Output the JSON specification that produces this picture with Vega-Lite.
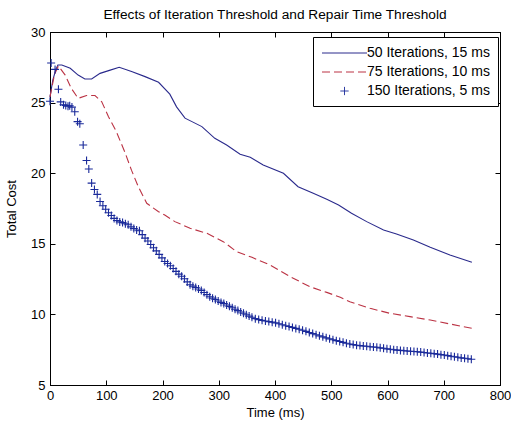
{
"$schema": "https://vega.github.io/schema/vega-lite/v6.json",
"width": 450, "height": 353,
"autosize": "none",
"padding": {"left": 50, "top": 32, "right": 11, "bottom": 36},
"background": "white",
"title": {"text": "Effects of Iteration Threshold and Repair Time Threshold", "fontSize": 13.7, "fontWeight": "normal", "font": "Liberation Sans", "anchor": "middle", "offset": -7, "baseline": "alphabetic", "color": "black"},
"config": {
  "view": {"stroke": "black", "strokeWidth": 1},
  "axis": {"domainColor": "black", "tickColor": "black", "labelColor": "black", "titleColor": "black", "grid": false, "labelFont": "Liberation Sans", "titleFont": "Liberation Sans", "labelFontSize": 13, "titleFontSize": 13, "titleFontWeight": "normal", "labelFlush": false, "labelOverlap": false, "tickSize": -5}
},
"datasets": {
"a": [{"t":0,"c":25.4},{"t":5,"c":26.6},{"t":10,"c":27.3},{"t":14,"c":27.66},{"t":21,"c":27.66},{"t":28,"c":27.55},{"t":36,"c":27.43},{"t":50,"c":26.95},{"t":62,"c":26.67},{"t":74,"c":26.67},{"t":89,"c":27.07},{"t":107,"c":27.3},{"t":123,"c":27.5},{"t":145,"c":27.2},{"t":169,"c":26.84},{"t":193,"c":26.44},{"t":213,"c":25.6},{"t":225,"c":24.7},{"t":240,"c":23.9},{"t":255,"c":23.6},{"t":270,"c":23.3},{"t":293,"c":22.47},{"t":314,"c":22.0},{"t":338,"c":21.34},{"t":356,"c":21.13},{"t":379,"c":20.58},{"t":415,"c":19.99},{"t":441,"c":19.04},{"t":468,"c":18.58},{"t":492,"c":18.15},{"t":513,"c":17.75},{"t":536,"c":17.16},{"t":563,"c":16.57},{"t":593,"c":15.98},{"t":616,"c":15.7},{"t":646,"c":15.27},{"t":676,"c":14.75},{"t":711,"c":14.2},{"t":750,"c":13.7}],
"b": [{"t":0,"c":25.4},{"t":8,"c":27.0},{"t":15,"c":27.6},{"t":27,"c":26.95},{"t":38,"c":26.0},{"t":50,"c":25.3},{"t":65,"c":25.5},{"t":80,"c":25.5},{"t":92,"c":25.06},{"t":104,"c":24.0},{"t":118,"c":22.94},{"t":133,"c":21.5},{"t":145,"c":20.2},{"t":157,"c":19.04},{"t":172,"c":17.87},{"t":193,"c":17.27},{"t":204,"c":17.04},{"t":222,"c":16.57},{"t":249,"c":16.1},{"t":279,"c":15.74},{"t":308,"c":15.15},{"t":332,"c":14.44},{"t":359,"c":14.04},{"t":391,"c":13.5},{"t":427,"c":12.67},{"t":462,"c":11.96},{"t":492,"c":11.56},{"t":516,"c":11.21},{"t":533,"c":10.9},{"t":569,"c":10.43},{"t":604,"c":10.08},{"t":640,"c":9.84},{"t":676,"c":9.6},{"t":711,"c":9.32},{"t":750,"c":9.02}],
"c": [{"t":0,"c":25.1},{"t":2,"c":27.8},{"t":9,"c":27.35},{"t":15,"c":25.95},{"t":19,"c":25.05},{"t":24,"c":24.85},{"t":28,"c":24.8},{"t":32,"c":24.75},{"t":35,"c":24.78},{"t":39,"c":24.68},{"t":44,"c":24.35},{"t":49,"c":23.65},{"t":53,"c":23.5},{"t":59,"c":22.0},{"t":65,"c":20.9},{"t":69,"c":20.3},{"t":74,"c":19.3},{"t":79,"c":18.85},{"t":84,"c":18.5},{"t":89,"c":18.0},{"t":94,"c":17.7},{"t":99,"c":17.45},{"t":104,"c":17.2},{"t":109,"c":17.0},{"t":114,"c":16.8},{"t":119,"c":16.65},{"t":124,"c":16.55},{"t":129,"c":16.5},{"t":134,"c":16.42},{"t":139,"c":16.35},{"t":144,"c":16.2},{"t":149,"c":16.08},{"t":154,"c":15.98},{"t":159,"c":15.92},{"t":164,"c":15.65},{"t":169,"c":15.4},{"t":174,"c":15.2},{"t":179,"c":14.95},{"t":184,"c":14.72},{"t":189,"c":14.5},{"t":194,"c":14.25},{"t":199,"c":14.0},{"t":204,"c":13.75},{"t":209,"c":13.6},{"t":214,"c":13.45},{"t":219,"c":13.25},{"t":224,"c":13.05},{"t":229,"c":12.85},{"t":234,"c":12.7},{"t":239,"c":12.52},{"t":244,"c":12.3},{"t":249,"c":12.1},{"t":254,"c":12.0},{"t":259,"c":11.9},{"t":264,"c":11.8},{"t":269,"c":11.7},{"t":274,"c":11.55},{"t":279,"c":11.4},{"t":284,"c":11.25},{"t":289,"c":11.15},{"t":294,"c":11.05},{"t":299,"c":10.95},{"t":304,"c":10.85},{"t":309,"c":10.77},{"t":314,"c":10.67},{"t":319,"c":10.57},{"t":324,"c":10.47},{"t":329,"c":10.36},{"t":334,"c":10.27},{"t":339,"c":10.17},{"t":344,"c":10.08},{"t":349,"c":9.97},{"t":354,"c":9.88},{"t":359,"c":9.8},{"t":365,"c":9.7},{"t":371,"c":9.63},{"t":377,"c":9.58},{"t":383,"c":9.53},{"t":389,"c":9.49},{"t":395,"c":9.45},{"t":401,"c":9.4},{"t":407,"c":9.34},{"t":413,"c":9.27},{"t":419,"c":9.2},{"t":425,"c":9.14},{"t":431,"c":9.08},{"t":437,"c":9.01},{"t":443,"c":8.95},{"t":449,"c":8.88},{"t":455,"c":8.8},{"t":461,"c":8.72},{"t":467,"c":8.64},{"t":473,"c":8.56},{"t":479,"c":8.48},{"t":485,"c":8.41},{"t":491,"c":8.34},{"t":497,"c":8.27},{"t":503,"c":8.2},{"t":509,"c":8.14},{"t":515,"c":8.08},{"t":521,"c":8.02},{"t":527,"c":7.96},{"t":533,"c":7.9},{"t":539,"c":7.86},{"t":545,"c":7.82},{"t":551,"c":7.79},{"t":557,"c":7.76},{"t":563,"c":7.74},{"t":569,"c":7.71},{"t":575,"c":7.69},{"t":581,"c":7.67},{"t":587,"c":7.63},{"t":593,"c":7.6},{"t":599,"c":7.56},{"t":605,"c":7.53},{"t":611,"c":7.5},{"t":617,"c":7.47},{"t":623,"c":7.45},{"t":629,"c":7.43},{"t":635,"c":7.41},{"t":641,"c":7.39},{"t":647,"c":7.37},{"t":653,"c":7.36},{"t":659,"c":7.33},{"t":665,"c":7.3},{"t":671,"c":7.27},{"t":677,"c":7.25},{"t":683,"c":7.22},{"t":689,"c":7.19},{"t":695,"c":7.15},{"t":701,"c":7.12},{"t":707,"c":7.08},{"t":713,"c":7.04},{"t":719,"c":7.0},{"t":725,"c":6.96},{"t":731,"c":6.92},{"t":737,"c":6.89},{"t":743,"c":6.86},{"t":749,"c":6.82}]
},
"layer": [
 {"data": {"name": "a"},
  "mark": {"type": "line", "strokeWidth": 1.1},
  "encoding": {
   "x": {"field": "t", "type": "quantitative", "scale": {"domain": [0, 800], "nice": false, "zero": false},
         "axis": {"orient": "bottom", "values": [0,100,200,300,400,500,600,700,800], "labelPadding": 9, "title": "Time (ms)", "titleY": 21}},
   "y": {"field": "c", "type": "quantitative", "scale": {"domain": [5, 30], "nice": false, "zero": false},
         "axis": {"orient": "left", "values": [5,10,15,20,25,30], "labelPadding": 10, "title": "Total Cost", "titleX": -32, "titleBaseline": "bottom"}},
   "color": {"datum": "50 Iterations, 15 ms", "type": "nominal",
     "scale": {"domain": ["50 Iterations, 15 ms", "75 Iterations, 10 ms", "150 Iterations, 5 ms"], "range": ["#2a2a8c", "#bb3344", "#1a2a9a"]},
     "legend": {"orient": "none", "legendX": 263, "legendY": 5, "title": null, "padding": 8, "strokeColor": "black", "fillColor": "white",
       "labelFont": "Liberation Sans", "labelFontSize": 14, "labelColor": "black", "labelLimit": 300,
       "symbolSize": 225, "symbolStrokeWidth": 1, "symbolOffset": 15.5, "labelOffset": 14.5, "rowPadding": 4,
       "symbolType": "M-3,0L3,0",
       "encode": {"symbols": {"update": {
         "shape": {"signal": "datum.value === '150 Iterations, 5 ms' ? 'M-0.55,0L0.55,0M0,-0.55L0,0.55' : 'M-3,0L3,0'"},
         "strokeDash": {"signal": "datum.value === '75 Iterations, 10 ms' ? [8,4] : [1,0]"},
         "fill": {"value": "transparent"},
         "opacity": {"value": 1}}}}}}
  }},
 {"data": {"name": "b"},
  "mark": {"type": "line", "strokeWidth": 1.1, "strokeDash": [8, 4]},
  "encoding": {
   "x": {"field": "t", "type": "quantitative", "axis": null},
   "y": {"field": "c", "type": "quantitative", "axis": null},
   "color": {"datum": "75 Iterations, 10 ms", "type": "nominal"}
  }},
 {"data": {"name": "c"},
  "mark": {"type": "point", "shape": "M-1,0L1,0M0,-1L0,1", "filled": false, "size": 64, "strokeWidth": 1.1, "opacity": 1},
  "encoding": {
   "x": {"field": "t", "type": "quantitative",
         "axis": {"orient": "top", "values": [0,100,200,300,400,500,600,700,800], "labels": false, "title": null}},
   "y": {"field": "c", "type": "quantitative",
         "axis": {"orient": "right", "values": [5,10,15,20,25,30], "labels": false, "title": null}},
   "color": {"datum": "150 Iterations, 5 ms", "type": "nominal"}
  }}
],
"resolve": {"axis": {"x": "independent", "y": "independent"}}
}
